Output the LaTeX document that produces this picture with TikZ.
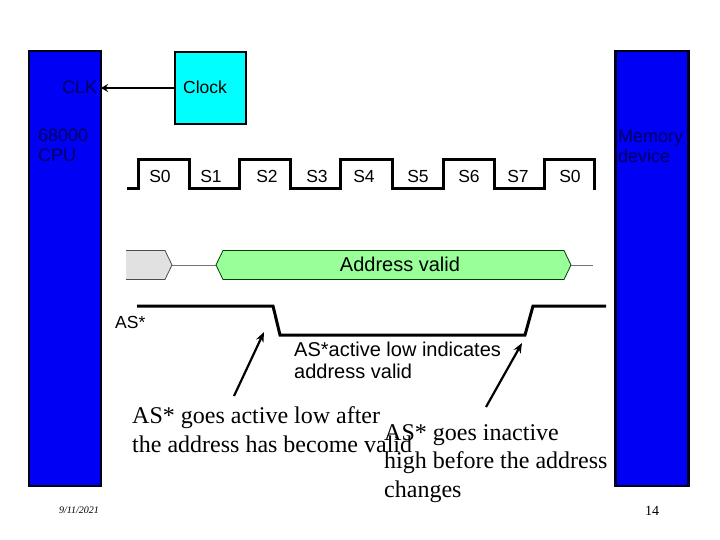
\documentclass[tikz,border=0pt]{standalone}
\usepackage{fontspec}
\setmainfont{Liberation Serif}
\setsansfont{Liberation Sans}
\usetikzlibrary{arrows.meta}
\definecolor{busblue}{RGB}{0,0,245}
\definecolor{clockcyan}{RGB}{0,255,255}
\definecolor{validgreen}{RGB}{153,255,153}
\definecolor{idlegray}{RGB}{225,225,225}
\definecolor{darktxt}{RGB}{0,0,95}
\tikzset{
  x=1pt,y=-1pt,
  chip/.style={draw=black!90!blue,line width=2.2pt,fill=busblue,minimum width=72pt,minimum height=435pt,inner sep=0pt,outer sep=0pt},
  clockbox/.style={draw=black,line width=2pt,fill=clockcyan,minimum width=71pt,minimum height=72pt,inner sep=0pt,outer sep=0pt},
  sans/.style={font=\sffamily\fontsize{17.5}{21}\selectfont,inner sep=0pt,text=black},
  bigsans/.style={font=\sffamily\fontsize{20}{24}\selectfont,inner sep=0pt,text=black},
  chiptext/.style={font=\sffamily\fontsize{18}{21}\selectfont,inner sep=0pt,text=darktxt,align=left},
  slabel/.style={sans,anchor=base},
  serif/.style={font=\rmfamily\fontsize{24}{29}\selectfont,inner sep=0pt,anchor=base west,text=black},
  wave/.style={line width=3pt,line join=miter,line cap=butt},
  bus/.style={draw=black!75!green,line width=0.8pt,line join=miter},
  thinline/.style={draw=black!55,line width=0.8pt},
  pointer/.style={line width=2.2pt,-{Stealth[length=10pt,width=8pt]}}
}
\begin{document}
\begin{tikzpicture}
\useasboundingbox (0,0) rectangle (720,540);
\fill[white] (0,0) rectangle (720,540);
% chips
\node[chip,anchor=north west] (cpu) at (29,51) {};
\node[chip,anchor=north west,minimum width=73pt] (mem) at (615.5,51) {};
\node[clockbox,anchor=north west] (clk) at (175,52) {};
\node[sans,anchor=base west] (clocktxt) at (183,94) {Clock};
\draw[line width=2.4pt,-{Stealth[length=7pt,width=8pt]}] (clk.west) -- (cpu.east |- clk.west);
\node[chiptext,anchor=base west] (clklbl) at (62,94) {CLK};
\node[chiptext,anchor=base west] (cpua) at (38,142) {68000};
\node[chiptext,anchor=base west] (cpub) at (38,162) {CPU};
\node[chiptext,anchor=base west] (mema) at (618,143) {Memory};
\node[chiptext,anchor=base west] (memb) at (618,163) {device};
% clock wave
\draw[wave] (127,189) -- (138,189) -- (138,160) -- (189,160) -- (189,189) -- (239,189) -- (239,160) -- (290,160) -- (290,189) -- (340,189) -- (340,160) -- (392,160) -- (392,189) -- (443,189) -- (443,160) -- (494,160) -- (494,189) -- (544,189) -- (544,160) -- (594,160) -- (594,190);
\node[slabel] (s0) at (160,182.5) {S0};
\node[slabel] (s1) at (211,182.5) {S1};
\node[slabel] (s2) at (267,182.5) {S2};
\node[slabel] (s3) at (317,182.5) {S3};
\node[slabel] (s4) at (364,182.5) {S4};
\node[slabel] (s5) at (418,182.5) {S5};
\node[slabel] (s6) at (469,182.5) {S6};
\node[slabel] (s7) at (518,182.5) {S7};
\node[slabel] (s0b) at (570,182.5) {S0};
% address bus
\fill[idlegray] (126,250.5) -- (165,250.5) -- (172,265) -- (165,279.5) -- (126,279.5) -- cycle;
\draw[draw=black!70,line width=0.8pt] (126,250.5) -- (165,250.5) -- (172,265) -- (165,279.5) -- (126,279.5);
\draw[thinline] (172,265) -- (216,265);
\draw[bus,fill=validgreen] (216,265) -- (223,250.5) -- (564,250.5) -- (571,265) -- (564,279.5) -- (223,279.5) -- cycle;
\draw[thinline] (571,265) -- (593,265);
\node[bigsans,anchor=base] (addr) at (400,271.5) {Address valid};
% AS*
\draw[wave] (137,306) -- (273,306) -- (280,335) -- (525,335) -- (533,306) -- (606,306);
\node[sans,anchor=base west] (aslbl) at (115,328) {AS*};
\node[bigsans,anchor=base west] (asa) at (294,356.5) {AS*active low indicates};
\node[bigsans,anchor=base west] (asb) at (294,378.5) {address valid};
% pointers
\coordinate (pa0) at (234,396);
\coordinate (pa1) at (264,332);
\coordinate (pb0) at (486,407);
\coordinate (pb1) at (522,343);
\draw[pointer] (pa0) -- (pa1);
\draw[pointer] (pb0) -- (pb1);
% serif notes
\node[serif] (na) at (132,423) {AS* goes active low after};
\node[serif] (nb) at (132,452) {the address has become valid};
\node[serif] (nc) at (384,440) {AS* goes inactive};
\node[serif] (nd) at (384,468) {high before the address};
\node[serif] (ne) at (384,497) {changes};
% footer
\node[font=\rmfamily\itshape\fontsize{10}{12}\selectfont,inner sep=0pt,anchor=base] (date) at (79,513) {9/11/2021};
\node[font=\rmfamily\fontsize{14}{17}\selectfont,inner sep=0pt,anchor=base] (page) at (652,515) {14};
\end{tikzpicture}
\end{document}
